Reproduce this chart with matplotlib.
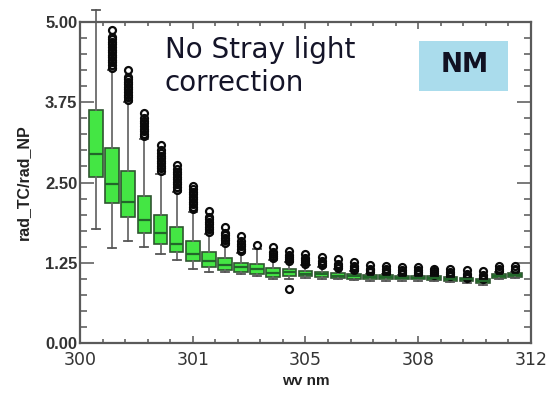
"""Box plot of rad_TC/rad_NP per wavelength bin (no stray light correction, NM)."""

import matplotlib

matplotlib.use("Agg")

import matplotlib.pyplot as plt  # noqa: E402
from matplotlib.patches import Rectangle  # noqa: E402
from matplotlib.ticker import MultipleLocator  # noqa: E402

# per-box statistics, left to right
q1 = [2.58, 2.18, 1.96, 1.71, 1.54, 1.42, 1.27, 1.18, 1.14, 1.11, 1.07, 1.03, 1.04, 1.04,
      1.03, 1.02, 1.00, 1.00, 1.00, 0.99, 0.99, 0.98, 0.97, 0.96, 0.94, 1.02, 1.03]
med = [2.94, 2.47, 2.19, 1.92, 1.72, 1.55, 1.38, 1.27, 1.21, 1.18, 1.16, 1.09, 1.10, 1.08,
       1.07, 1.05, 1.04, 1.03, 1.03, 1.02, 1.02, 1.01, 1.00, 0.99, 0.97, 1.05, 1.06]
q3 = [3.63, 3.04, 2.68, 2.29, 2.00, 1.80, 1.59, 1.41, 1.32, 1.24, 1.23, 1.17, 1.15, 1.12,
      1.11, 1.09, 1.07, 1.06, 1.06, 1.05, 1.05, 1.04, 1.03, 1.02, 1.00, 1.08, 1.09]
whis_lo = [1.78, 1.48, 1.59, 1.50, 1.38, 1.29, 1.15, 1.11, 1.10, 1.08, 1.04, 1.00, 1.00, 1.01,
           1.00, 0.99, 0.98, 0.97, 0.97, 0.97, 0.97, 0.96, 0.95, 0.94, 0.91, 1.00, 1.01]
whis_hi = [5.19, 4.25, 3.75, 3.18, 2.64, 2.35, 2.04, 1.70, 1.53, 1.40, 1.47, 1.30, 1.26, 1.21,
           1.19, 1.15, 1.12, 1.08, 1.07, 1.06, 1.05, 1.04, 1.02, 1.00, 0.98, 1.10, 1.11]
fliers = [
    [],
    [4.29, 4.33, 4.37, 4.41, 4.45, 4.49, 4.53, 4.57, 4.61, 4.65, 4.69, 4.73, 4.77, 4.88],
    [3.79, 3.83, 3.87, 3.91, 3.95, 3.99, 4.03, 4.07, 4.11, 4.15, 4.26],
    [3.22, 3.26, 3.30, 3.34, 3.38, 3.42, 3.46, 3.50, 3.58],
    [2.68, 2.72, 2.76, 2.80, 2.84, 2.88, 2.92, 2.96, 3.00, 3.08],
    [2.39, 2.43, 2.47, 2.51, 2.55, 2.59, 2.63, 2.67, 2.71, 2.77],
    [2.08, 2.12, 2.16, 2.20, 2.24, 2.28, 2.32, 2.36, 2.40, 2.45],
    [1.73, 1.77, 1.81, 1.85, 1.89, 1.93, 1.97, 2.05],
    [1.56, 1.60, 1.64, 1.68, 1.72, 1.81],
    [1.43, 1.47, 1.51, 1.55, 1.59, 1.67],
    [1.53],
    [1.33, 1.36, 1.39, 1.42, 1.49],
    [0.84, 1.28, 1.31, 1.34, 1.37, 1.44],
    [1.23, 1.26, 1.29, 1.32, 1.39],
    [1.21, 1.24, 1.27, 1.34],
    [1.17, 1.20, 1.23, 1.31],
    [1.14, 1.17, 1.20, 1.26],
    [1.10, 1.13, 1.16, 1.21],
    [1.09, 1.12, 1.15, 1.20],
    [1.08, 1.11, 1.14, 1.19],
    [1.07, 1.10, 1.13, 1.18],
    [1.06, 1.09, 1.12, 1.16],
    [1.04, 1.07, 1.10, 1.15],
    [1.02, 1.05, 1.08, 1.14],
    [1.00, 1.03, 1.06, 1.12],
    [1.12, 1.15, 1.20],
    [1.13, 1.16, 1.20],
]

x_tick_labels = ["300", "301", "305", "308", "312"]
y_ticks = [0.0, 1.25, 2.50, 3.75, 5.00]

stats = [
    {"q1": a, "med": m, "q3": b, "whislo": lo, "whishi": hi, "fliers": f}
    for a, m, b, lo, hi, f in zip(q1, med, q3, whis_lo, whis_hi, fliers)
]
positions = list(range(1, len(stats) + 1))

fig = plt.figure(figsize=(5.46, 3.96), dpi=100)
ax = fig.add_axes([0.1465, 0.1338, 0.826, 0.8106])

parts = ax.bxp(
    stats,
    positions=positions,
    widths=0.85,
    patch_artist=True,
    showfliers=True,
    boxprops=dict(facecolor="#44e644", edgecolor="#2f5530", linewidth=1.2),
    medianprops=dict(color="#22662a", linewidth=1.6),
    whiskerprops=dict(color="#6a6a6a", linewidth=1.3),
    capprops=dict(color="#555555", linewidth=1.3),
    flierprops=dict(marker="o", markersize=5.0, markerfacecolor="none",
                    markeredgecolor="#0a0a0a", markeredgewidth=1.6),
    capwidths=0.5,
)
for key in ("whiskers", "caps"):
    for art in parts[key]:
        art.set_clip_on(False)

ax.set_xlim(0, 28)
ax.set_ylim(0, 5)
ax.set_xticks([0, 7, 14, 21, 28])
ax.set_xticklabels(x_tick_labels, fontsize=12.5, color="#333333")
ax.xaxis.set_minor_locator(MultipleLocator(1.4))
ax.set_yticks(y_ticks)
ax.set_yticklabels([f"{v:.2f}" for v in y_ticks], fontsize=12,
                   fontweight="bold", family="Liberation Sans", color="#333333")
ax.yaxis.set_minor_locator(MultipleLocator(0.25))

ax.tick_params(axis="both", which="both", direction="in", top=True, right=True,
               color="#555555", width=1.1)
ax.tick_params(axis="x", which="major", length=5, pad=6)
ax.tick_params(axis="x", which="minor", length=3)
ax.tick_params(axis="y", which="major", length=10, pad=2)
ax.tick_params(axis="y", which="minor", length=5)
for spine in ax.spines.values():
    spine.set_color("#5a5a5a")
    spine.set_linewidth(1.6)

ax.set_ylabel("rad_TC/rad_NP", fontsize=11.5, fontweight="bold",
              family="Liberation Sans", color="#222222", labelpad=10)
ax.set_xlabel("wv nm", fontsize=11, fontweight="bold",
              family="Liberation Sans", color="#222222", labelpad=3)

ax.text(0.188, 0.955, "No Stray light\ncorrection", transform=ax.transAxes,
        fontsize=20, family="DejaVu Sans", color="#141428", va="top",
        ha="left", linespacing=1.2)

# light blue "NM" tag in the top right corner
ax.add_patch(Rectangle((0.752, 0.785), 0.197, 0.156, transform=ax.transAxes,
                       facecolor="#aadcec", edgecolor="none", zorder=3))
ax.text(0.852, 0.866, "NM", transform=ax.transAxes, fontsize=19, fontweight="bold",
        family="DejaVu Sans", color="#111122", ha="center", va="center", zorder=4)

fig.savefig("out.png", dpi=100)
plt.close(fig)
